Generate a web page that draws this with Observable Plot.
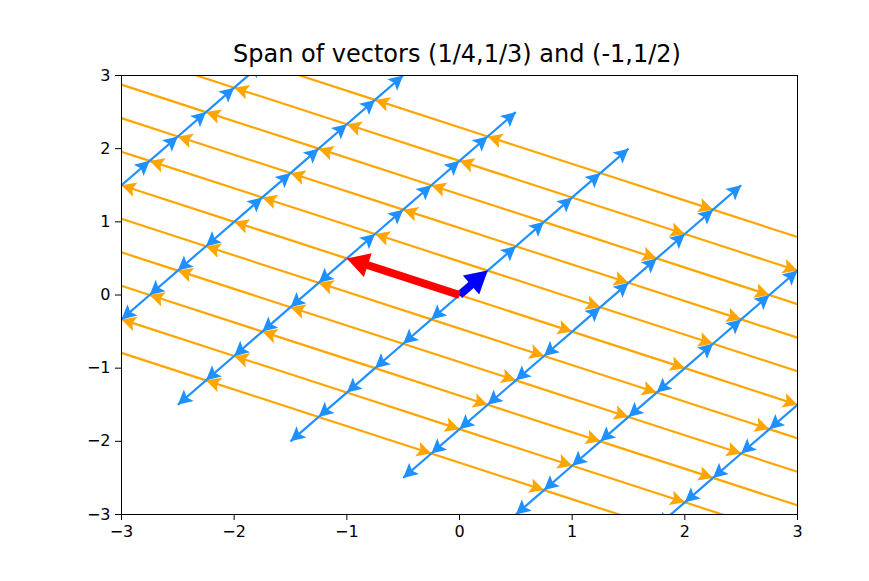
<!DOCTYPE html>
<html>
<head>
<meta charset="utf-8">
<script src="https://cdn.jsdelivr.net/npm/d3@7"></script>
<script src="https://cdn.jsdelivr.net/npm/@observablehq/plot@0.6"></script>
<style>
  html, body { margin: 0; padding: 0; background: #fff; }
  #wrap { position: relative; width: 869px; height: 581px; font-family: "DejaVu Sans", sans-serif; }
  #title { position: absolute; z-index: 2; left: 119px; width: 676px; top: 42px; line-height: 24px; font-size: 24px;
           text-align: center; color: #000; white-space: nowrap; }
  #chart { position: absolute; z-index: 1; left: 0; top: 60px; }
</style>
</head>
<body>
<div id="wrap">
  <div id="title">Span of vectors (1/4,1/3) and (-1,1/2)</div>
  <div id="chart"></div>
</div>
<script>
// ---- data ----
const u = [1/4, 1/3];          // first spanning vector
const v = [-1, 1/2];           // second spanning vector
const coefs = [-5, -4, -3, -2, -1, 0, 1, 2, 3, 4, 5];   // lattice coefficients
const xTicks = [-3, -2, -1, 0, 1, 2, 3];
const yTicks = [-3, -2, -1, 0, 1, 2, 3];
const mainNames = ["u", "v"];
const mainDx = [1/4, -1];
const mainDy = [1/3, 1/2];

// lattice arrows: from a*u + b*v, stepping one u (blue) / one v (orange) away from origin
const blueArrows = [], orangeArrows = [];
for (const a of coefs) for (const b of coefs) {
  const px = a * u[0] + b * v[0], py = a * u[1] + b * v[1];
  for (const s of [1, -1]) {
    if (s * a >= 0) blueArrows.push({x1: px, y1: py, x2: px + s * u[0], y2: py + s * u[1]});
    if (s * b >= 0) orangeArrows.push({x1: px, y1: py, x2: px + s * v[0], y2: py + s * v[1]});
  }
}
const mainVectors = mainNames.map((n, i) => ({name: n, dx: mainDx[i], dy: mainDy[i]}));

// ---- styles ----
const shaftFrac = {u: 0.74, v: 0.88};
const mainColor = {u: "blue", v: "red"};

function headMarker(len, wid, notch, color) {
  return () => {
    const ns = "http://www.w3.org/2000/svg";
    const m = document.createElementNS(ns, "marker");
    m.setAttribute("viewBox", `${-len} ${-wid / 2} ${len} ${wid}`);
    m.setAttribute("markerWidth", len);
    m.setAttribute("markerHeight", wid);
    m.setAttribute("refX", 0);
    m.setAttribute("refY", 0);
    m.setAttribute("orient", "auto");
    m.setAttribute("markerUnits", "userSpaceOnUse");
    m.setAttribute("overflow", "visible");
    const p = document.createElementNS(ns, "path");
    p.setAttribute("d", `M0,0L${-len},${-wid / 2}L${-len + notch},0L${-len},${wid / 2}Z`);
    p.setAttribute("fill", color);
    p.setAttribute("stroke", "none");
    m.appendChild(p);
    return m;
  };
}

const thinMarks = (data, color) => Plot.link(data, {
  x1: "x1", y1: "y1", x2: "x2", y2: "y2",
  stroke: color, strokeWidth: 2.2, clip: true,
  markerEnd: headMarker(14.5, 15, 3, color)
});

const mainHeadMarks = mainVectors.map(d => Plot.link([d], {
  x1: () => 0, y1: () => 0, x2: "dx", y2: "dy",
  stroke: mainColor[d.name], strokeWidth: 1, clip: true,
  markerEnd: headMarker(22, 25, 0, mainColor[d.name])
}));
const mainShaftMarks = mainVectors.map(d => Plot.link([d], {
  x1: () => 0, y1: () => 0,
  x2: e => e.dx * shaftFrac[e.name], y2: e => e.dy * shaftFrac[e.name],
  stroke: mainColor[d.name], strokeWidth: 8, clip: true
}));

const fmt = d3.format("d");
const chart = Plot.plot({
  width: 869,
  height: 521,
  marginTop: 15,
  marginBottom: 67,
  marginLeft: 121,
  marginRight: 72,
  style: {fontFamily: "DejaVu Sans, sans-serif", fontSize: "16px", color: "#000", background: "transparent"},
  x: {domain: [-3, 3], ticks: xTicks, tickFormat: fmt, label: null, tickSize: 6, tickPadding: 5},
  y: {domain: [-3, 3], ticks: yTicks, tickFormat: fmt, label: null, tickSize: 6, tickPadding: 5},
  marks: [
    thinMarks(orangeArrows, "orange"),
    thinMarks(blueArrows, "dodgerblue"),
    ...mainShaftMarks,
    ...mainHeadMarks,
    Plot.frame({stroke: "#000", strokeWidth: 1})
  ]
});
document.getElementById("chart").appendChild(chart);
</script>
</body>
</html>
